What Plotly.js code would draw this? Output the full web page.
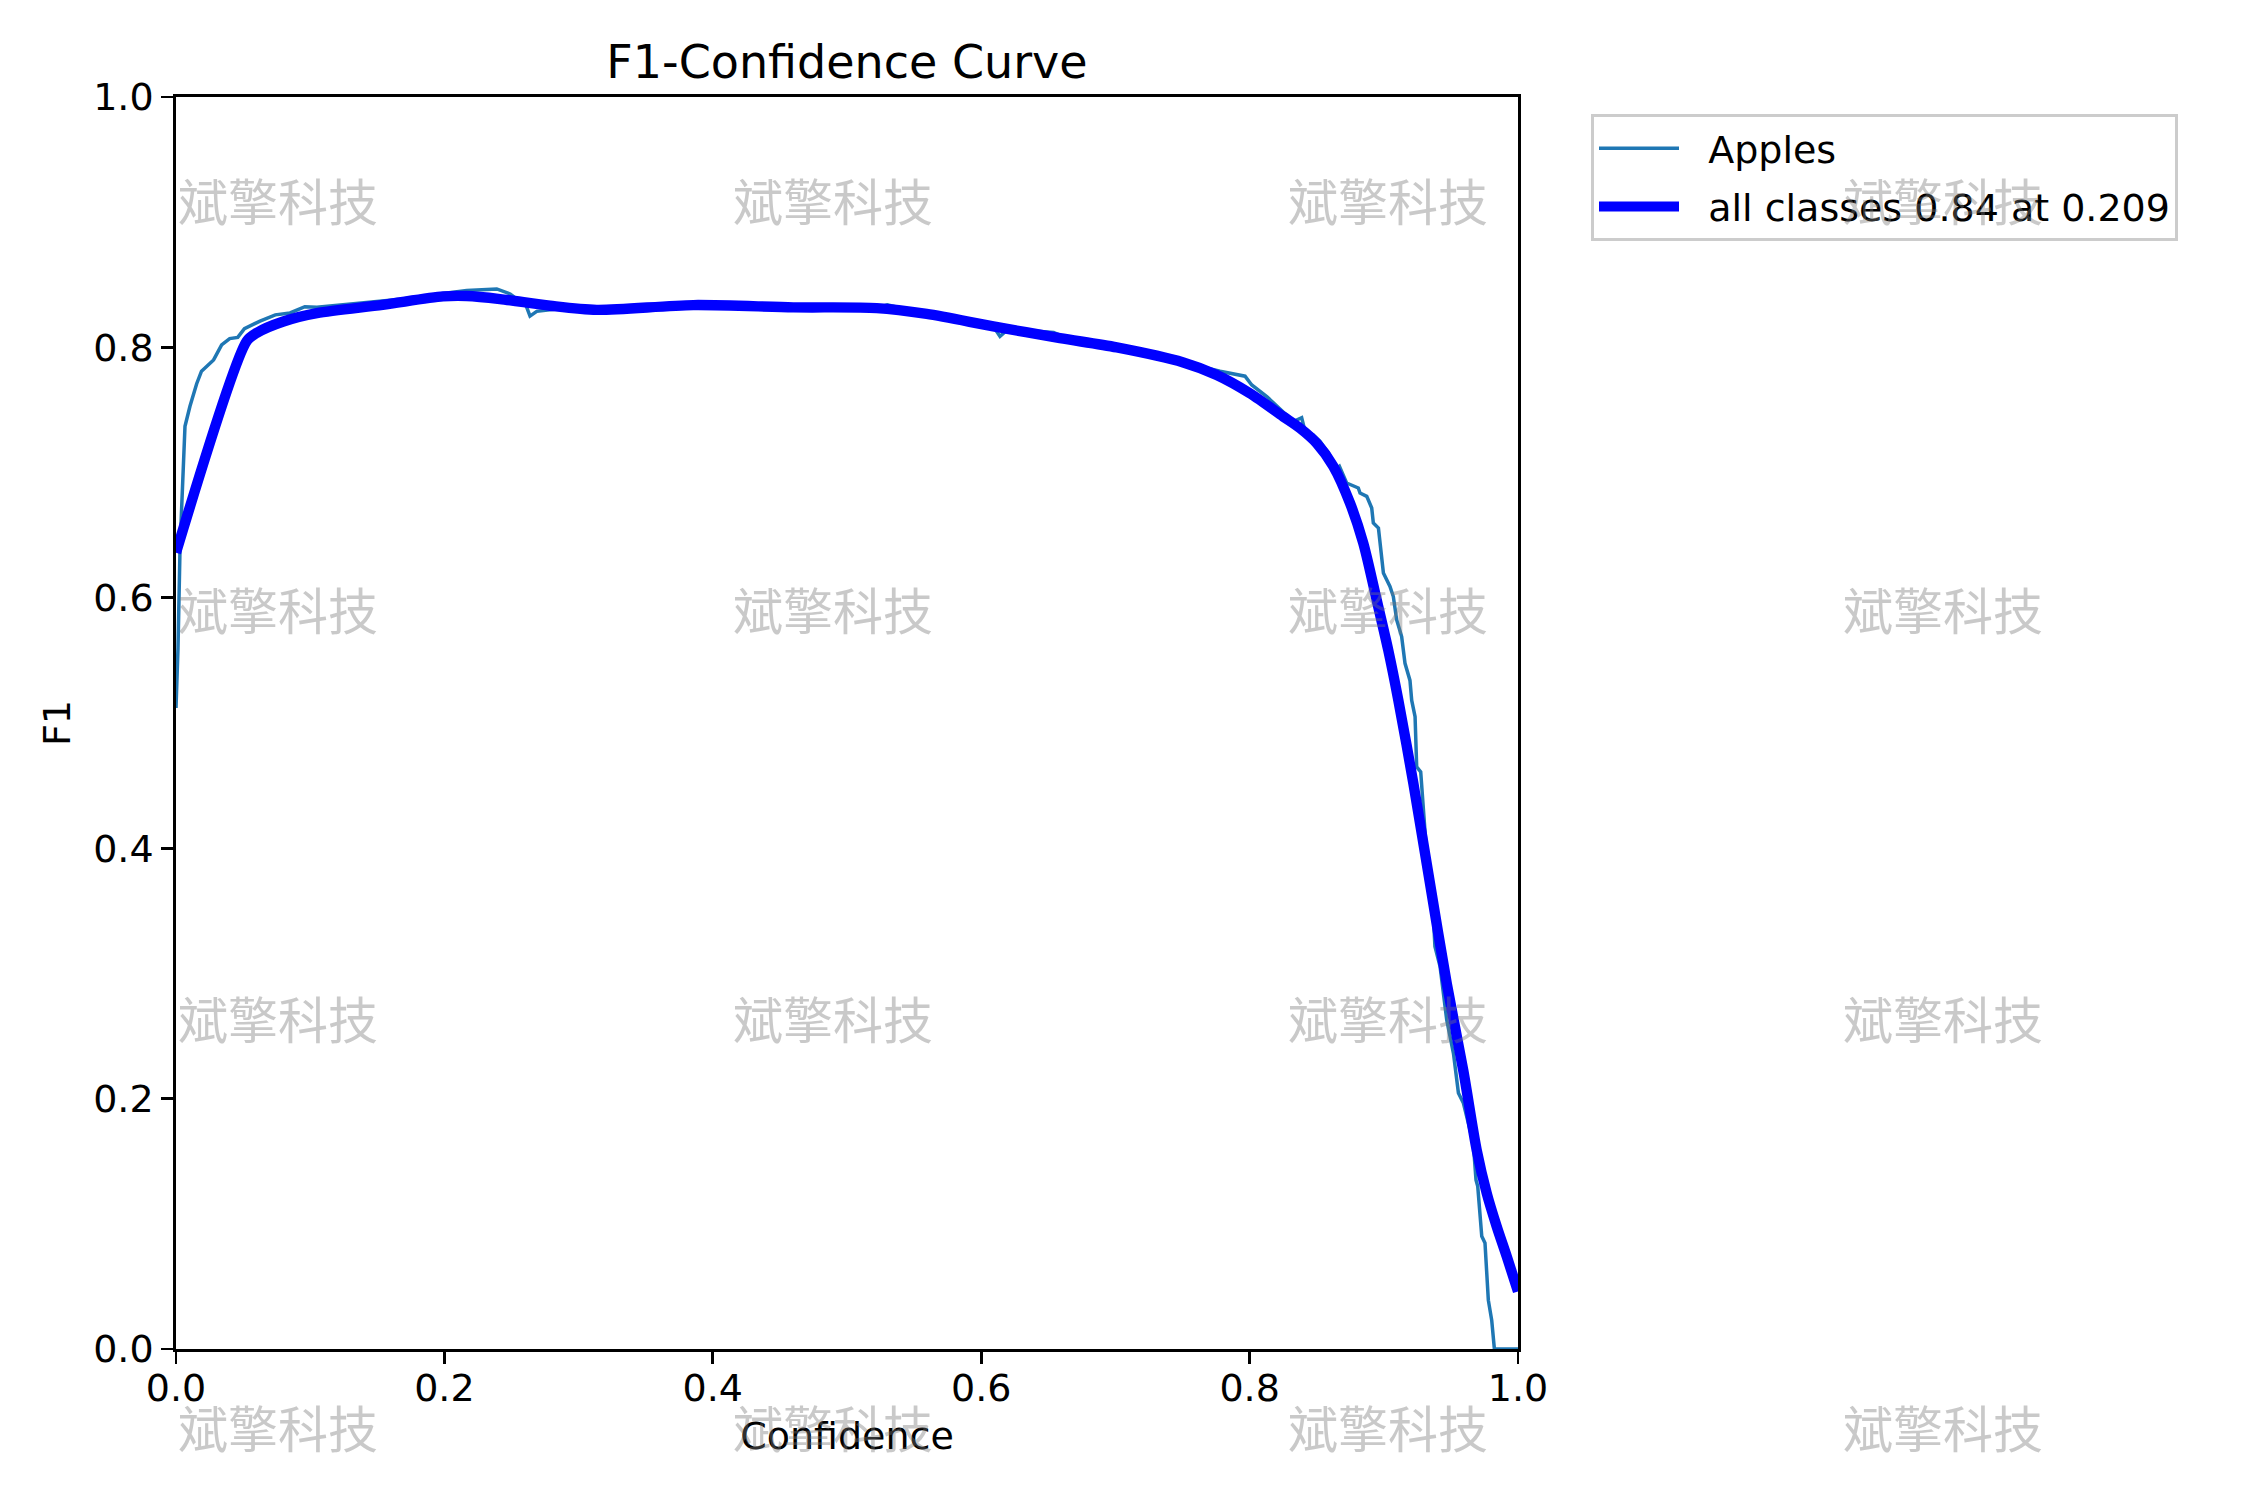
<!DOCTYPE html>
<html>
<head>
<meta charset="utf-8">
<script src="https://cdn.plot.ly/plotly-3.0.1.min.js"></script>
<style>
  html, body { margin: 0; padding: 0; background: #fff; }
  #chart { width: 2250px; height: 1500px; }
</style>
</head>
<body>
<div id="chart"></div>
<script>
  // per-class F1 curve (Apples)
  const applesConf = [
    0, 0.0015, 0.003, 0.0067, 0.0104, 0.0154, 0.019, 0.028, 0.034, 0.040,
    0.046, 0.051, 0.0626, 0.074, 0.085, 0.096, 0.105, 0.137, 0.167, 0.199,
    0.2166, 0.239, 0.249, 0.261, 0.2638, 0.2688, 0.2787, 0.29, 0.3135, 0.315,
    0.33, 0.3855, 0.46, 0.5221, 0.530, 0.5594, 0.609, 0.614, 0.62, 0.654,
    0.6637, 0.701, 0.7506, 0.778, 0.7966, 0.8016, 0.8128, 0.8326, 0.8388, 0.8413,
    0.8475, 0.8525, 0.8587, 0.8649, 0.8669, 0.8723, 0.881, 0.8823, 0.8873, 0.891,
    0.8922, 0.896, 0.8997, 0.9046, 0.9071, 0.9096, 0.9133, 0.9158, 0.9195, 0.9208,
    0.9233, 0.9245, 0.9275, 0.9295, 0.9335, 0.937, 0.9381, 0.9419, 0.9444, 0.9469,
    0.9519, 0.9556, 0.9593, 0.9667, 0.9687, 0.970, 0.973, 0.9754, 0.9779, 0.9804,
    0.9824, 1.0,
  ];
  const applesF1 = [
    0.512, 0.56, 0.64, 0.737, 0.753, 0.771, 0.781, 0.790, 0.802, 0.807,
    0.808, 0.815, 0.821, 0.826, 0.8275, 0.8325, 0.832, 0.835, 0.8385, 0.843,
    0.8455, 0.8467, 0.8427, 0.833, 0.825, 0.8288, 0.830, 0.8315, 0.829, 0.828,
    0.831, 0.834, 0.832, 0.8314, 0.834, 0.8267, 0.8168, 0.8088, 0.8145, 0.812,
    0.8074, 0.800, 0.788, 0.781, 0.777, 0.770, 0.7607, 0.7407, 0.7439, 0.733,
    0.730, 0.725, 0.7157, 0.7034, 0.705, 0.6917, 0.6877, 0.6837, 0.681, 0.6717,
    0.6597, 0.6557, 0.6198, 0.609, 0.601, 0.5823, 0.569, 0.5477, 0.534, 0.518,
    0.505, 0.465, 0.461, 0.433, 0.372, 0.345, 0.3215, 0.3056, 0.2867, 0.2628,
    0.2362, 0.2045, 0.1965, 0.1643, 0.135, 0.13, 0.090, 0.0847, 0.039, 0.023,
    0.0, 0.0,
  ];

  // smoothed mean over all classes
  const allConf = [
    0, 0.0527, 0.060, 0.080, 0.105, 0.154, 0.199, 0.2166, 0.2414, 0.2787,
    0.3135, 0.3855, 0.46, 0.5221, 0.5594, 0.609, 0.6587, 0.701, 0.7506, 0.7755,
    0.8003, 0.8251, 0.8376, 0.85, 0.8624, 0.8748, 0.8847, 0.8947, 0.9033, 0.9108,
    0.922, 0.9344, 0.9469, 0.9593, 0.9692, 0.9767, 0.9841, 0.9916, 1.0,
  ];
  const allF1 = [
    0.636, 0.805, 0.8115, 0.8207, 0.8274, 0.834, 0.8407, 0.841, 0.8386, 0.8333,
    0.830, 0.8338, 0.832, 0.8314, 0.8267, 0.8168, 0.8074, 0.800, 0.788, 0.778,
    0.7633, 0.7447, 0.7354, 0.7234, 0.705, 0.6757, 0.6437, 0.5982, 0.5583, 0.5184,
    0.452, 0.372, 0.292, 0.222, 0.159, 0.1244, 0.098, 0.074, 0.046,
  ];

  const seriesNames = ["Apples", "all classes 0.84 at 0.209"];
  const tickVals = [0, 0.2, 0.4, 0.6, 0.8, 1.0];
  const watermarkText = "斌擎科技";

  // plot box in pixels
  const W = 2250, H = 1500;
  const plotL = 176, plotR = 1518, plotT = 97, plotB = 1349;
  const px = (x) => (x - plotL) / (plotR - plotL);
  const py = (y) => (plotB - y) / (plotB - plotT);

  const font = "DejaVu Sans, Liberation Sans, sans-serif";
  const gap = "\u00a0\u00a0"; // room between legend line and its text

  const watermarks = [];
  [176, 731, 1286, 1841].forEach((left) => {
    [199, 608, 1017, 1426].forEach((cy) => {
      watermarks.push({
        xref: "paper", yref: "paper",
        x: px(left), y: py(cy),
        xanchor: "left", yanchor: "middle",
        text: watermarkText,
        showarrow: false,
        font: { family: "Noto Sans CJK SC", size: 50, color: "rgba(120,120,120,0.4)" },
      });
    });
  });

  const axisCommon = {
    range: [0, 1],
    tickvals: tickVals,
    tickformat: ".1f",
    showgrid: false,
    zeroline: false,
    showline: true,
    mirror: true,
    linecolor: "#000",
    linewidth: 2.8,
    ticks: "outside",
    ticklen: 12,
    tickwidth: 2.8,
    tickcolor: "#000",
    tickfont: { family: font, size: 38, color: "#000" },
    automargin: false,
  };

  const traces = [
    {
      x: applesConf, y: applesF1,
      type: "scatter", mode: "lines",
      name: gap + seriesNames[0],
      legendgroup: "a",
      line: { color: "#1f77b4", width: 3.5 },
    },
    {
      x: allConf, y: allF1,
      type: "scatter", mode: "lines",
      name: gap + seriesNames[1],
      legendgroup: "b",
      line: { color: "#0000ff", width: 10.4, shape: "spline", smoothing: 0.8 },
    },
  ];

  const layout = {
    width: W, height: H,
    paper_bgcolor: "#fff",
    plot_bgcolor: "#fff",
    margin: { l: plotL, r: W - plotR, t: plotT, b: H - plotB, pad: 0 },
    font: { family: font, color: "#000" },
    title: {
      text: "F1-Confidence Curve",
      font: { family: font, size: 46, color: "#000" },
      xref: "paper", x: 0.5, xanchor: "center",
      yref: "container", y: 1 - 62 / H, yanchor: "middle",
    },
    xaxis: {
      ...axisCommon,
      ticklabelstandoff: -8,
      title: { text: "Confidence", font: { family: font, size: 38, color: "#000" }, standoff: 13 },
    },
    yaxis: {
      ...axisCommon,
      title: { text: "F1", font: { family: font, size: 38, color: "#000" }, standoff: 11 },
    },
    showlegend: true,
    legend: {
      x: px(1591), y: py(114),
      xanchor: "left", yanchor: "top",
      bgcolor: "rgba(255,255,255,0.8)",
      bordercolor: "#cccccc",
      borderwidth: 3,
      font: { family: font, size: 38, color: "#000" },
      itemwidth: 80,
      traceorder: "grouped",
      tracegroupgap: 6,
    },
    annotations: watermarks,
  };

  Plotly.newPlot("chart", traces, layout, { displayModeBar: false, staticPlot: true });
</script>
</body>
</html>
